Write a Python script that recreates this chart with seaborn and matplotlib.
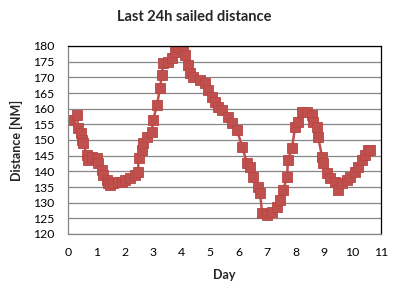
import matplotlib
matplotlib.use("Agg")
import matplotlib.pyplot as plt
import seaborn as sns
import pandas as pd

days = [0.08, 0.32, 0.35, 0.46, 0.49, 0.53, 0.67, 0.70, 0.84, 1.02, 1.05, 1.20, 1.23,
        1.37, 1.41, 1.48, 1.58, 1.76, 1.90, 2.00, 2.18, 2.36, 2.46, 2.48, 2.60, 2.64,
        2.78, 2.95, 2.99, 3.13, 3.23, 3.30, 3.34, 3.51, 3.66, 3.76, 3.87, 4.04, 4.11,
        4.22, 4.29, 4.39, 4.64, 4.82, 4.92, 5.06, 5.17, 5.27, 5.41, 5.62, 5.76, 5.94,
        6.12, 6.29, 6.40, 6.50, 6.68, 6.75, 6.82, 6.99, 7.17, 7.35, 7.45, 7.56, 7.70,
        7.73, 7.87, 7.98, 8.08, 8.22, 8.40, 8.58, 8.61, 8.75, 8.79, 8.93, 8.96, 9.10,
        9.21, 9.38, 9.49, 9.63, 9.81, 9.91, 10.09, 10.19, 10.33, 10.44, 10.54, 10.61]
distance = [156.4, 158.0, 153.8, 152.2, 150.0, 149.0, 145.2, 143.6, 144.6, 144.3, 142.7,
            140.4, 138.8, 137.2, 136.3, 135.6, 136.3, 136.6, 136.6, 137.2, 137.9, 138.8,
            139.8, 144.3, 146.8, 149.0, 151.0, 152.6, 156.4, 161.2, 166.6, 170.7, 174.6,
            174.9, 176.2, 178.0, 179.7, 179.7, 177.1, 173.9, 171.4, 170.1, 169.1, 168.2,
            166.0, 163.7, 162.1, 160.5, 159.6, 157.3, 155.4, 153.2, 147.8, 142.7, 141.4,
            138.2, 135.0, 133.0, 126.7, 126.0, 127.0, 128.6, 130.8, 134.0, 138.2, 143.6,
            147.4, 154.0, 155.7, 159.0, 159.0, 158.0, 155.7, 154.0, 151.0, 144.6, 142.7,
            139.5, 137.9, 136.6, 134.0, 136.3, 137.2, 138.2, 139.8, 141.4, 143.6, 145.2,
            146.8, 146.8]

title = "Last 24h sailed distance"
xlabel = "Day"
ylabel = "Distance [NM]"
xticks = list(range(0, 12))
yticks = list(range(120, 181, 5))

sns.set_style("white")
plt.rcParams['font.family'] = ['Lato', 'DejaVu Sans']

fig = plt.figure(figsize=(3.95, 2.91), dpi=100)
ax = fig.add_axes([68/395, 1-234/291, (381-68)/395, (234-46)/291])

df = pd.DataFrame({"day": days, "distance": distance})
red = "#C0504D"
sns.lineplot(data=df, x="day", y="distance", ax=ax, color=red, linewidth=1.8,
             marker="s", markersize=6.5, markeredgecolor="#B84542",
             markeredgewidth=0.6, sort=False)

ax.set_xlim(0, 11)
ax.set_ylim(120, 180)
ax.set_xticks(xticks)
ax.set_yticks(yticks)
ax.yaxis.grid(True, color="#868686", linewidth=0.9)
ax.set_axisbelow(True)
ax.tick_params(axis="both", length=0, labelsize=8.8, pad=9, colors="black")
ax.tick_params(axis="y", pad=10)

for s in ["top", "right"]:
    ax.spines[s].set_color("black")
    ax.spines[s].set_linewidth(0.9)
for s in ["left", "bottom"]:
    ax.spines[s].set_color("#868686")
    ax.spines[s].set_linewidth(0.9)

ax.set_xlabel(xlabel, fontsize=9, fontweight="bold", labelpad=8)
ax.set_ylabel(ylabel, fontsize=9, fontweight="bold", labelpad=7)
fig.text(194/395, 1-17/291, title, ha="center", va="center",
         fontsize=10.5, fontweight="bold")

fig.savefig("out.png", dpi=100)
